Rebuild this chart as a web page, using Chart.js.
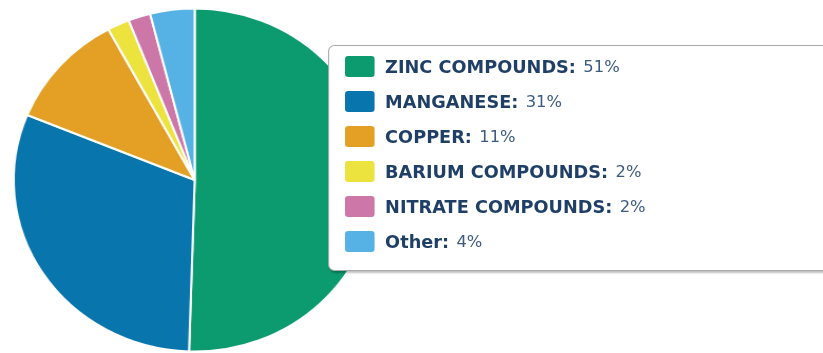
<!DOCTYPE html>
<html>
<head>
<meta charset="utf-8">
<script src="https://cdn.jsdelivr.net/npm/chart.js@4"></script>
<style>
  html, body { margin: 0; padding: 0; background: #fff; overflow: hidden; }
  #wrap {
    position: relative;
    width: 780px;
    height: 353px;
    transform: scaleX(1.0551);
    transform-origin: 0 0;
  }
  #legend {
    position: absolute;
    left: 311px;
    top: 45px;
    width: 520px;
    height: 226px;
    box-sizing: border-box;
    background: #fff;
    border: 1.5px solid #a9a9a9;
    border-radius: 6px;
    box-shadow: 1px 2px 2px rgba(0, 0, 0, 0.25);
    padding-top: 3px;
    font-family: "DejaVu Sans", sans-serif;
    font-size: 16.8px;
  }
  .row { display: flex; align-items: center; height: 35px; padding-left: 15px; }
  .sw { width: 28px; height: 21px; border-radius: 3px; margin-right: 10px; }
  .lbl { font-weight: bold; color: #1f3f66; }
  .val { color: #3d5b80; margin-left: 7px; font-size: 15.5px; }
</style>
</head>
<body>
<div id="wrap">
  <canvas id="pie"></canvas>
  <div id="legend"></div>
</div>
<script>
// 成分の内訳
const categories = ['ZINC COMPOUNDS', 'MANGANESE', 'COPPER', 'BARIUM COMPOUNDS', 'NITRATE COMPOUNDS', 'Other'];
const shares = [51, 31, 11, 2, 2, 4];
const colors = ['#0b9b6f', '#0876ad', '#e3a024', '#ede33f', '#cd77a9', '#56b2e5'];

const ctx = document.getElementById('pie').getContext('2d');

new Chart(ctx, {
  type: 'pie',
  data: {
    labels: categories,
    datasets: [{
      data: shares,
      backgroundColor: colors,
      borderColor: '#fff',
      borderWidth: 2,
      hoverOffset: 0
    }]
  },
  options: {
    responsive: true,
    maintainAspectRatio: false,
    animation: false,
    layout: {
      padding: { top: 7, bottom: 0, left: 12, right: 423 }
    },
    plugins: {
      legend: { display: false },
      tooltip: { enabled: false }
    }
  }
});

// 凡例はHTMLで組み立てる
const legend = document.getElementById('legend');
categories.forEach((name, i) => {
  const row = document.createElement('div');
  row.className = 'row';
  row.innerHTML =
    `<span class="sw" style="background:${colors[i]}"></span>` +
    `<span class="lbl">${name}:</span><span class="val">${shares[i]}%</span>`;
  legend.appendChild(row);
});
</script>
</body>
</html>
